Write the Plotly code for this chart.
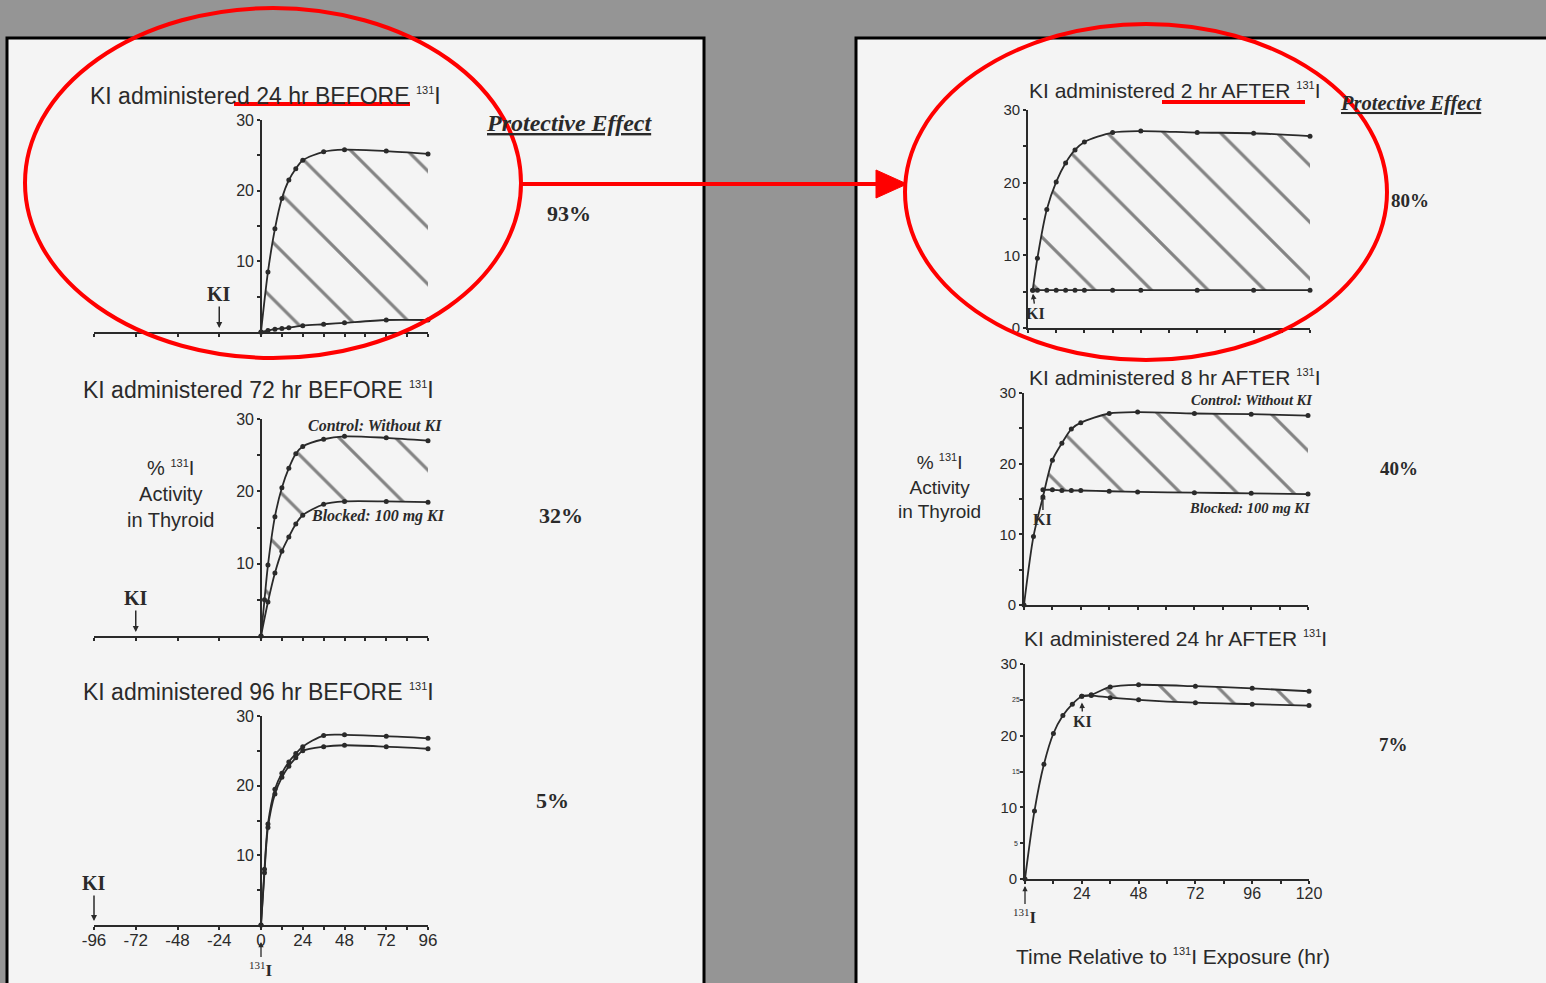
import plotly.graph_objects as go

W, H = 1546, 983


def fx(p):
    return p / W


def fy(p):
    return 1 - p / H


# ---------------- data ----------------
# Left column: KI given BEFORE 131I (x in hours relative to 131I exposure)
l1_ctrl_x = [0, 4, 8, 12, 16, 20, 24, 36, 48, 72, 96]
l1_ctrl_y = [0, 8.5, 14.6, 18.9, 21.5, 23.1, 24.3, 25.5, 25.8, 25.6, 25.2]
l1_blk_x = [0, 4, 8, 12, 16, 24, 36, 48, 72, 96]
l1_blk_y = [0, 0.2, 0.4, 0.5, 0.6, 0.9, 1.1, 1.3, 1.7, 1.7]

l2_ctrl_x = [0, 2, 4, 8, 12, 16, 20, 24, 36, 48, 72, 96]
l2_ctrl_y = [0, 5.0, 9.8, 16.5, 20.5, 23.2, 25.2, 26.2, 27.2, 27.6, 27.4, 27.0]
l2_blk_x = [0, 4, 8, 12, 16, 20, 24, 36, 48, 72, 96]
l2_blk_y = [0, 4.7, 8.7, 11.7, 13.7, 15.5, 16.7, 18.2, 18.6, 18.6, 18.5]

l3_ctrl_x = [0, 2, 4, 8, 12, 16, 20, 24, 36, 48, 72, 96]
l3_ctrl_y = [0, 8.0, 14.5, 19.5, 21.8, 23.4, 24.6, 25.6, 27.2, 27.3, 27.1, 26.8]
l3_blk_x = [0, 2, 4, 8, 12, 16, 20, 24, 36, 48, 72, 96]
l3_blk_y = [0, 7.5, 14.0, 18.8, 21.2, 22.8, 24.0, 25.0, 25.6, 25.8, 25.6, 25.3]

# Right column: KI given AFTER 131I
r1_ctrl_x = [2, 4, 8, 12, 16, 20, 24, 36, 48, 72, 96, 120]
r1_ctrl_y = [5.2, 9.6, 16.3, 20.1, 22.7, 24.5, 25.6, 26.9, 27.1, 26.9, 26.8, 26.4]
r1_blk_x = [2, 4, 8, 12, 16, 20, 24, 36, 48, 72, 96, 120]
r1_blk_y = [5.2, 5.2, 5.2, 5.2, 5.2, 5.2, 5.2, 5.2, 5.2, 5.2, 5.2, 5.2]

r2_ctrl_x = [0, 4, 8, 12, 16, 20, 24, 36, 48, 72, 96, 120]
r2_ctrl_y = [0, 9.7, 15.3, 20.5, 22.9, 24.9, 25.8, 27.1, 27.3, 27.1, 27.0, 26.8]
r2_blk_x = [8, 12, 16, 20, 24, 36, 48, 72, 96, 120]
r2_blk_y = [16.3, 16.3, 16.2, 16.2, 16.2, 16.1, 16.0, 15.9, 15.8, 15.7]

r3_ctrl_x = [0, 4, 8, 12, 16, 20, 24, 28, 36, 48, 72, 96, 120]
r3_ctrl_y = [0, 9.5, 16.0, 20.3, 22.8, 24.4, 25.5, 25.7, 26.8, 27.1, 26.9, 26.6, 26.2]
r3_blk_x = [24, 28, 36, 48, 72, 96, 120]
r3_blk_y = [25.5, 25.6, 25.3, 25.0, 24.6, 24.4, 24.2]

SUP131 = '<sup><span style="font-size:11px">131</span></sup>'
panel_titles = [
    "KI administered 24 hr BEFORE " + SUP131 + "I",
    "KI administered 72 hr BEFORE " + SUP131 + "I",
    "KI administered 96 hr BEFORE " + SUP131 + "I",
    "KI administered 2 hr AFTER " + SUP131 + "I",
    "KI administered 8 hr AFTER " + SUP131 + "I",
    "KI administered 24 hr AFTER " + SUP131 + "I",
]
protective = ["93%", "32%", "5%", "80%", "40%", "7%"]
ki_times = [-24, -72, -96, 2, 8, 24]

left_major = [-96, -72, -48, -24, 0, 24, 48, 72, 96]
left_major_text = ["-96", "-72", "-48", "-24", "0", "24", "48", "72", "96"]
left_minor = [12, 36, 60, 84]
right_major = [24, 48, 72, 96, 120]
right_major_text = ["24", "48", "72", "96", "120"]
right_minor = [0, 12, 36, 60, 84, 108]
y_major_left = [10, 20, 30]
y_major_right = [0, 10, 20, 30]
y_minor = [5, 15, 25]

# ---------------- styling ----------------
INK = "#2a2a2a"
SANS = "Liberation Sans, Arial, sans-serif"
SERIF = "Liberation Serif, Times New Roman, serif"
RED = "#ff0000"

# subplot pixel boxes: (x range, x px at range ends, y px at 0 and 30)
boxes = [
    ([-96, 96], (94, 428), (332, 120)),
    ([-96, 96], (94, 428), (636, 419)),
    ([-96, 96], (94, 428), (925, 716)),
    ([0, 120], (1028, 1310), (328, 110)),
    ([0, 120], (1024, 1308), (605, 393)),
    ([0, 120], (1025, 1309), (879, 664)),
]

series = [
    (l1_ctrl_x, l1_ctrl_y, l1_blk_x, l1_blk_y, True),
    (l2_ctrl_x, l2_ctrl_y, l2_blk_x, l2_blk_y, True),
    (l3_ctrl_x, l3_ctrl_y, l3_blk_x, l3_blk_y, False),
    (r1_ctrl_x, r1_ctrl_y, r1_blk_x, r1_blk_y, True),
    (r2_ctrl_x, r2_ctrl_y, r2_blk_x, r2_blk_y, True),
    (r3_ctrl_x, r3_ctrl_y, r3_blk_x, r3_blk_y, True),
]

fig = go.Figure()

line_style = dict(color=INK, width=1.8, shape="spline", smoothing=0.8)
marker_style = dict(color=INK, size=5)

for i, (cx, cy, bx, by, hatch) in enumerate(series):
    n = i + 1
    xa = "x" if n == 1 else f"x{n}"
    ya = "y" if n == 1 else f"y{n}"
    fig.add_trace(go.Scatter(x=bx, y=by, mode="lines+markers", line=line_style,
                             marker=marker_style, xaxis=xa, yaxis=ya,
                             cliponaxis=False, showlegend=False, hoverinfo="skip"))
    if hatch:
        start = bx[0]
        fx_pts = [x for x in cx if x >= start]
        fy_pts = [y for x, y in zip(cx, cy) if x >= start]
        fig.add_trace(go.Scatter(x=fx_pts, y=fy_pts, mode="lines",
                                 line=dict(width=0, shape="spline", smoothing=0.8),
                                 fill="tonexty", fillcolor="rgba(0,0,0,0)",
                                 fillpattern=dict(shape="\\", size=40, solidity=0.08,
                                                  fgcolor="#111111", bgcolor="rgba(0,0,0,0)"),
                                 xaxis=xa, yaxis=ya, showlegend=False, hoverinfo="skip"))
    fig.add_trace(go.Scatter(x=cx, y=cy, mode="lines+markers", line=line_style,
                             marker=marker_style, xaxis=xa, yaxis=ya,
                             cliponaxis=False, showlegend=False, hoverinfo="skip"))

tick_common = dict(ticks="outside", ticklen=3, tickwidth=1.6, tickcolor=INK)
layout = {}
for i, (xr, (px0, px1), (py0, py30)) in enumerate(boxes):
    n = i + 1
    xk = "xaxis" if n == 1 else f"xaxis{n}"
    yk = "yaxis" if n == 1 else f"yaxis{n}"
    left = i < 3
    if left:
        tv, tt, mv, tfs = left_major, left_major_text, left_minor, 17
        show_x = n == 3
    else:
        tv, tt, mv, tfs = right_major, right_major_text, right_minor, 16
        show_x = n == 6
    layout[xk] = dict(domain=[fx(px0), fx(px1)], range=xr, anchor="y" if n == 1 else f"y{n}",
                      showline=True, linecolor=INK, linewidth=1.6, tickmode="array",
                      tickvals=tv, ticktext=tt, showticklabels=show_x, automargin=False,
                      ticklabelstandoff=-4,
                      minor=dict(tickmode="array", tickvals=mv, **tick_common),
                      tickfont=dict(family=SANS, size=tfs, color=INK),
                      showgrid=False, zeroline=False, fixedrange=True, **tick_common)
    ydict = dict(domain=[fy(py0), fy(py30)], range=[0, 30], showline=True, linecolor=INK,
                 linewidth=1.6, tickmode="array", automargin=False,
                 tickvals=y_major_left if left else y_major_right,
                 minor=dict(tickmode="array", tickvals=y_minor, **tick_common),
                 tickfont=dict(family=SANS, size=16 if left else 15, color=INK),
                 showgrid=False, zeroline=False, fixedrange=True, **tick_common)
    if left:
        x0_px = px0 + (0 - xr[0]) / (xr[1] - xr[0]) * (px1 - px0)
        ydict.update(anchor="free", position=fx(x0_px))
    else:
        ydict.update(anchor=f"x{n}")
    layout[yk] = ydict

annotations = []


def text(x, y, t, size, family=SANS, color=INK, **kw):
    annotations.append(dict(x=fx(x), y=fy(y), xref="paper", yref="paper", text=t,
                            showarrow=False, xanchor="center", yanchor="middle",
                            font=dict(family=family, size=size, color=color), **kw))


# panel titles
title_pos = [(265, 96, 23), (258, 390, 23), (258, 692, 23),
             (1174, 90, 21), (1174, 377, 21), (1175, 638, 21)]
for t, (x, y, s) in zip(panel_titles, title_pos):
    text(x, y, t, s)

# protective effect headers and values
text(569, 123, "<u><b><i>Protective Effect</i></b></u>", 24, SERIF)
text(1411, 104, "<u><b><i>Protective Effect</i></b></u>", 20.5, SERIF)
pct_pos = [(569, 213, 22), (561, 515, 22), (552, 800, 22),
           (1410, 200, 19), (1399, 468, 19), (1393, 744, 19)]
for t, (x, y, s) in zip(protective, pct_pos):
    text(x, y, f"<b>{t}</b>", s, SERIF)

# y axis titles
text(170, 494, "% " + SUP131 + "I<br>Activity<br>in Thyroid", 20)
text(939, 486, "% " + SUP131 + "I<br>Activity<br>in Thyroid", 19)

# curve labels
text(375, 425, "<b><i>Control: Without KI</i></b>", 16, SERIF)
text(378, 516, "<b><i>Blocked: 100 mg KI</i></b>", 16, SERIF)
text(1252, 400, "<b><i>Control: Without KI</i></b>", 14.5, SERIF)
text(1250, 508, "<b><i>Blocked: 100 mg KI</i></b>", 14.5, SERIF)

# x axis title
text(1173, 956, "Time Relative to " + SUP131 + "I Exposure (hr)", 21)

# tiny minor-tick labels on the last panel
for v in y_minor:
    annotations.append(dict(x=fx(1016), y=v, xref="paper", yref="y6", text=str(v),
                            showarrow=False, xanchor="center", yanchor="middle",
                            font=dict(family=SANS, size=7, color=INK)))

# KI arrows (left: pointing down to the axis at KI time)
ki_ay = [-38, -38, -42]
for i in range(3):
    annotations.append(dict(x=ki_times[i], y=0, xref="x" if i == 0 else f"x{i+1}",
                            yref="y" if i == 0 else f"y{i+1}", text="<b>KI</b>",
                            showarrow=True, arrowhead=2, arrowsize=0.8, arrowwidth=1.5,
                            arrowcolor=INK, ax=0, ay=ki_ay[i], standoff=4,
                            font=dict(family=SERIF, size=20, color=INK)))
# KI arrows (right: pointing up to the curve at KI time)
ki_right = [(5.0, 22, 3), (16.0, 28, 0), (24.9, 21, 1)]
for j, (yv, ay, axo) in enumerate(ki_right):
    n = 4 + j
    annotations.append(dict(x=ki_times[3 + j], y=yv, xref=f"x{n}", yref=f"y{n}",
                            text="<b>KI</b>", showarrow=True, arrowhead=2, arrowsize=0.8,
                            arrowwidth=1.4, arrowcolor=INK, ax=axo, ay=ay, standoff=2,
                            font=dict(family=SERIF, size=16, color=INK)))

# 131I exposure markers at time 0
for xr_, ypx, ay in (("x3", 942, 27), ("x6", 886, 30)):
    annotations.append(dict(x=0, y=fy(ypx), xref=xr_, yref="paper",
                            text=SUP131 + "<b>I</b>", showarrow=True, arrowhead=2,
                            arrowsize=0.8, arrowwidth=1.3, arrowcolor=INK, ax=0, ay=ay,
                            font=dict(family=SERIF, size=17, color=INK)))

BORDER = dict(color="#000000", width=3)
shapes = [
    # paper panels (fills stay inside the figure; borders drawn only where visible)
    dict(type="rect", xref="paper", yref="paper", x0=fx(7), x1=fx(704), y0=0, y1=fy(38),
         fillcolor="#f4f4f4", line=dict(width=0), layer="below"),
    dict(type="rect", xref="paper", yref="paper", x0=fx(856), x1=1, y0=0, y1=fy(38),
         fillcolor="#f4f4f4", line=dict(width=0), layer="below"),
    dict(type="path", xref="paper", yref="paper",
         path=f"M {fx(7)},0 L {fx(7)},{fy(38)} L {fx(704)},{fy(38)} L {fx(704)},0",
         line=BORDER, layer="below"),
    dict(type="path", xref="paper", yref="paper",
         path=f"M {fx(856)},0 L {fx(856)},{fy(38)} L 1,{fy(38)}",
         line=BORDER, layer="below"),
    # red highlight ellipses
    dict(type="circle", xref="paper", yref="paper", x0=fx(25), x1=fx(521), y0=fy(358), y1=fy(8),
         line=dict(color=RED, width=4)),
    dict(type="circle", xref="paper", yref="paper", x0=fx(905), x1=fx(1387), y0=fy(360), y1=fy(24),
         line=dict(color=RED, width=4)),
    # red arrow
    dict(type="line", xref="paper", yref="paper", x0=fx(521), x1=fx(880), y0=fy(184), y1=fy(184),
         line=dict(color=RED, width=4)),
    dict(type="path", xref="paper", yref="paper",
         path=f"M {fx(876)},{fy(170)} L {fx(907)},{fy(184)} L {fx(876)},{fy(198)} Z",
         fillcolor=RED, line=dict(color=RED, width=1)),
    # red underlines
    dict(type="line", xref="paper", yref="paper", x0=fx(234), x1=fx(410), y0=fy(104), y1=fy(104),
         line=dict(color=RED, width=4)),
    dict(type="line", xref="paper", yref="paper", x0=fx(1162), x1=fx(1305), y0=fy(102), y1=fy(102),
         line=dict(color=RED, width=4)),
]

fig.update_layout(width=W, height=H, margin=dict(l=0, r=0, t=0, b=0, pad=0, autoexpand=False),
                  paper_bgcolor="#959595", plot_bgcolor="rgba(0,0,0,0)",
                  annotations=annotations, shapes=shapes, showlegend=False, **layout)

fig.write_html("out.html", config={"displayModeBar": False},
               post_script="document.body.style.margin='0';document.body.style.overflow='hidden';")
